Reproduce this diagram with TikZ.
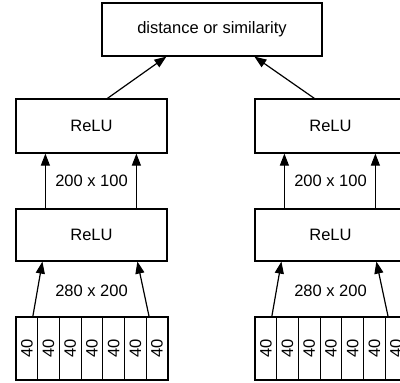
\documentclass[tikz,border=0pt]{standalone}
\usepackage{fontspec}
\setmainfont{Liberation Sans}
\usetikzlibrary{arrows.meta,calc}
\begin{document}
\begin{tikzpicture}[x=1pt,y=-1pt,
  txt/.style={font=\fontsize{16.5}{20}\selectfont},
  box/.style={draw, line width=1.2pt, inner sep=0pt, txt},
  cell/.style={draw, line width=1.2pt, inner sep=0pt, minimum width=21.7pt, minimum height=63pt, txt},
  lbl/.style={inner sep=1pt, txt},
  arr/.style={line width=1.2pt, -{Triangle[length=12pt,width=9pt]}}]
\useasboundingbox (0,0) rectangle (400,383);
\clip (0,0) rectangle (400,383);
\node[box, minimum width=220pt, minimum height=53pt] (top) at (212,29.5) {distance or similarity};
\foreach \side/\dx in {L/0, R/239} {
  \node[box, minimum width=151pt, minimum height=54pt] (a\side) at (91.5+\dx,126) {ReLU};
  \node[box, minimum width=151pt, minimum height=52pt] (b\side) at (91.5+\dx,235) {ReLU};
  \node[lbl] (m\side) at (91.5+\dx,181) {200 x 100};
  \node[lbl] (n\side) at (91.5+\dx,290.5) {280 x 200};
  \foreach \i in {1,...,7}
    \node[cell] (c\side\i) at ({16+\dx+(\i-0.5)*21.7},348.5) {\rotatebox{90}{40}};
  \draw[arr] ($(b\side.north west)+(30,0)$) -- ($(a\side.south west)+(30,0)$);
  \draw[arr] ($(b\side.north west)+(121,0)$) -- ($(a\side.south west)+(121,0)$);
  \draw[arr] ($(c\side1.north)+(6,0)$) -- ($(b\side.south west)+(27,0)$);
  \draw[arr] ($(c\side7.north)+(-8,0)$) -- ($(b\side.south west)+(122,0)$);
}
\draw[arr] ($(aL.north west)+(92,0)$) -- ($(top.south west)+(65,0)$);
\draw[arr] ($(aR.north west)+(60,0)$) -- ($(top.south west)+(153,0)$);
\end{tikzpicture}
\end{document}
